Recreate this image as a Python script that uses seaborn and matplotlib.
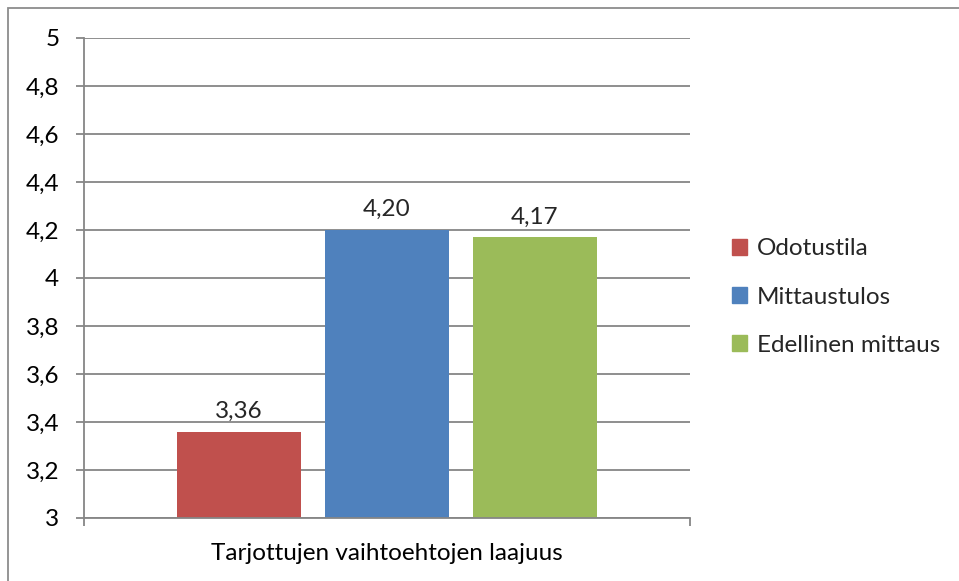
import matplotlib
matplotlib.use("Agg")
import matplotlib.pyplot as plt
import seaborn as sns
import pandas as pd
from matplotlib.ticker import FuncFormatter, FixedLocator
from matplotlib.patches import Rectangle

categories = ["Tarjottujen vaihtoehtojen laajuus"]
series = ["Odotustila", "Mittaustulos", "Edellinen mittaus"]
values = [3.36, 4.20, 4.17]
colors = ["#C0504D", "#4F81BD", "#9BBB59"]
yticks = [3, 3.2, 3.4, 3.6, 3.8, 4, 4.2, 4.4, 4.6, 4.8, 5]

df = pd.DataFrame({"category": categories * len(series), "series": series, "value": values})

sns.set_theme(style="white")
plt.rcParams["font.family"] = ["Lato", "DejaVu Sans"]
FS = 17.5

fig = plt.figure(figsize=(9.59, 5.81), dpi=100)
ax = fig.add_axes([84/959, 1-518/581, (690-84)/959, (518-38)/581])

sns.barplot(data=df, x="category", y="value", hue="series", palette=colors,
            width=0.7327, gap=0.162, ax=ax, legend=False, saturation=1, linewidth=0)

ax.set_ylim(3, 5)
ax.set_xlim(-0.5, 0.5)
ax.set_yticks(yticks)
ax.yaxis.set_major_formatter(FuncFormatter(lambda v, p: (f"{v:g}").replace(".", ",")))
ax.grid(axis="y", color="#868686", linewidth=1.3)
ax.set_axisbelow(True)
for s in ["top", "right"]:
    ax.spines[s].set_visible(False)
for s in ["left", "bottom"]:
    ax.spines[s].set_color("#868686")
    ax.spines[s].set_linewidth(1.3)
ax.tick_params(axis="y", direction="out", length=8*0.72, width=1.3, color="#868686",
               left=True, pad=12, labelsize=FS, labelcolor="black")
ax.tick_params(axis="x", which="major", length=0, pad=18, labelsize=FS, labelcolor="black")
ax.xaxis.set_minor_locator(FixedLocator([-0.5, 0.5]))
ax.tick_params(axis="x", which="minor", direction="out", length=8*0.72, width=1.3,
               color="#868686", bottom=True)
ax.set_xlabel("")
ax.set_ylabel("")

for cont, v in zip(ax.containers, values):
    ax.bar_label(cont, labels=[f"{v:.2f}".replace(".", ",")], padding=7, fontsize=FS)

handles = [Rectangle((0, 0), 1, 1, color=c) for c in colors]
fig.legend(handles, series, loc="center left", bbox_to_anchor=(732/959, 1-297/581),
           frameon=False, fontsize=FS, handlelength=0.62, handleheight=0.62,
           handletextpad=0.4, labelspacing=1.12, borderpad=0, borderaxespad=0)

fig.patches.append(Rectangle((8/959, -0.1), 1.2, 1-8/581+0.1, transform=fig.transFigure,
                             fill=False, edgecolor="#8c8c8c", linewidth=1.3, zorder=0))

fig.savefig("out.png", dpi=100)
